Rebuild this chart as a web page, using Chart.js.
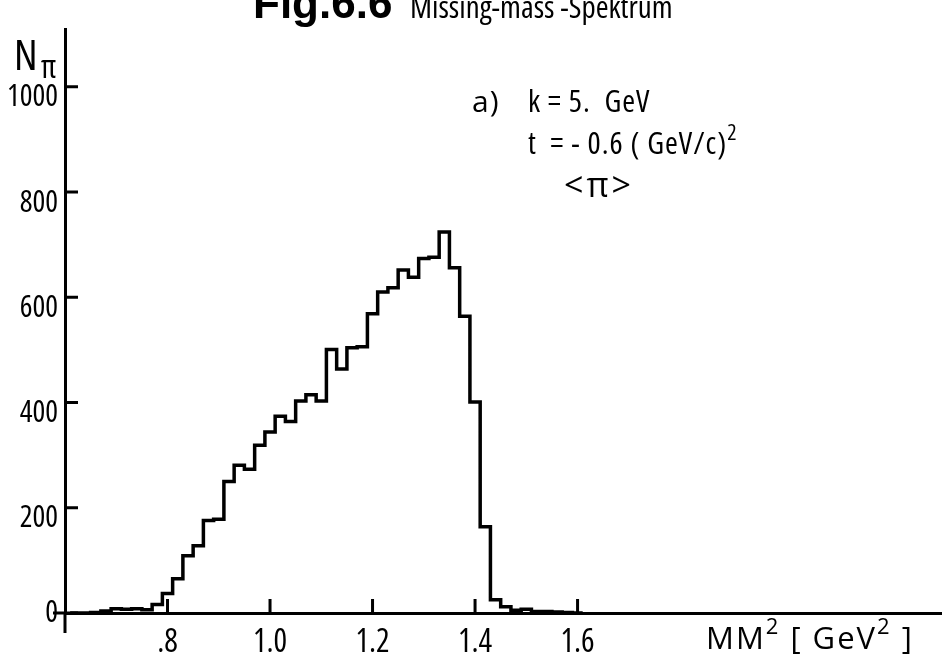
<!DOCTYPE html>
<html lang="de">
<head>
<meta charset="UTF-8">
<title>Fig.6.6 Missing-mass -Spektrum</title>
<script src="https://cdn.jsdelivr.net/npm/chart.js@4.4.0/dist/chart.umd.min.js"></script>
<style>
  html, body { margin: 0; padding: 0; background: #fff; }
  #wrap { width: 942px; height: 659px; position: relative; }
</style>
</head>
<body>
<div id="wrap"><canvas id="mmChart"></canvas></div>
<script>
// lower edges of the MM^2 bins [GeV^2] (bins are 0.02 wide)
const mmBinLow = [
  0.61, 0.63, 0.65, 0.67, 0.69, 0.71, 0.73, 0.75, 0.77, 0.79,
  0.81, 0.83, 0.85, 0.87, 0.89, 0.91, 0.93, 0.95, 0.97, 0.99,
  1.01, 1.03, 1.05, 1.07, 1.09, 1.11, 1.13, 1.15, 1.17, 1.19,
  1.21, 1.23, 1.25, 1.27, 1.29, 1.31, 1.33, 1.35, 1.37, 1.39,
  1.41, 1.43, 1.45, 1.47, 1.49, 1.51, 1.53, 1.55, 1.57, 1.59
];
const mmLastEdge = 1.61;
// counts per bin
const nPi = [
  0, 0, 1, 4, 8, 7, 8, 6, 16, 37,
  65, 109, 128, 176, 178, 250, 281, 273, 319, 344,
  374, 364, 403, 415, 403, 501, 464, 504, 506, 569,
  610, 618, 652, 638, 674, 676, 724, 656, 564, 401,
  164, 25, 12, 5, 7, 3, 3, 2, 1, 0
];
const xTicks = [0.8, 1.0, 1.2, 1.4, 1.6];
const xTickLabels = ['.8', '1.0', '1.2', '1.4', '1.6'];
const yTicks = [0, 200, 400, 600, 800, 1000];

// Open Sans has a width axis, "condensed" gives the narrow plotter lettering
const sans = "'Open Sans', 'DejaVu Sans', sans-serif";
const cond = size => 'condensed ' + size + 'px ' + sans;
const wide = size => size + 'px ' + sans;

const points = mmBinLow.map((x, i) => ({ x: x, y: nPi[i] }));
points.push({ x: mmLastEdge, y: 0 });

// text with raised "2"s, parts: [text, isSup]
function drawParts(ctx, parts, x, y, font, supFont, supRise) {
  parts.forEach(([t, sup]) => {
    ctx.font = sup ? supFont : font;
    ctx.fillText(t, x, sup ? y - supRise : y);
    x += ctx.measureText(t).width;
  });
}

// inward tick marks, axis stubs and the text on the figure
const extras = {
  id: 'extras',
  afterDraw(chart) {
    const ctx = chart.ctx;
    const xs = chart.scales.x, ys = chart.scales.y;
    const area = chart.chartArea;
    ctx.save();
    ctx.strokeStyle = '#000';
    ctx.lineWidth = 3;
    ctx.beginPath();
    xTicks.forEach(v => {
      const px = xs.getPixelForValue(v);
      ctx.moveTo(px, area.bottom);
      ctx.lineTo(px, area.bottom - 14);
    });
    yTicks.forEach(v => {
      const py = ys.getPixelForValue(v);
      ctx.moveTo(area.left, py);
      ctx.lineTo(area.left + 13, py);
    });
    // y axis runs a little below zero, zero line a little left of the axis
    ctx.moveTo(area.left, area.bottom);
    ctx.lineTo(area.left, area.bottom + 20);
    ctx.moveTo(area.left - 12, area.bottom);
    ctx.lineTo(area.left, area.bottom);
    ctx.stroke();

    ctx.fillStyle = '#000';
    ctx.textBaseline = 'alphabetic';
    ctx.textAlign = 'left';
    // title, cut at the top edge like the scan
    ctx.font = "bold 44px 'Liberation Sans', sans-serif";
    ctx.fillText('Fig.6.6', 253, 18);
    ctx.font = cond(31);
    ctx.fillText('Missing-mass -Spektrum', 410, 18);

    // y label
    ctx.font = cond(42);
    ctx.fillText('N', 14, 70);
    ctx.font = cond(32);
    ctx.fillText('\u03c0', 41, 78);

    // run parameters
    ctx.letterSpacing = '1px';
    ctx.font = wide(30);
    ctx.fillText('a)', 472, 112);
    ctx.font = cond(31);
    ctx.fillText('k = 5.  GeV', 528, 112);
    drawParts(ctx, [['t  = - 0.6 ( GeV/c)', false], ['2', true]], 528, 154, cond(31), cond(22), 14);
    ctx.letterSpacing = '3px';
    ctx.font = wide(34);
    ctx.fillText('<\u03c0>', 564, 197);

    // x label
    ctx.letterSpacing = '2px';
    drawParts(ctx, [['MM', false], ['2', true], [' [ GeV', false], ['2', true], [' ]', false]],
      706, 649, wide(31), wide(22), 15);
    ctx.restore();
  }
};

new Chart(document.getElementById('mmChart'), {
  type: 'line',
  data: {
    datasets: [{
      data: points,
      borderColor: '#000',
      borderWidth: 3.5,
      pointRadius: 0,
      fill: false,
      stepped: 'before',
      tension: 0
    }]
  },
  options: {
    responsive: true,
    maintainAspectRatio: false,
    animation: false,
    layout: { padding: { top: 28, left: 0, right: 0, bottom: 0 } },
    plugins: {
      legend: { display: false },
      tooltip: { enabled: false }
    },
    scales: {
      x: {
        type: 'linear',
        min: 0.6,
        max: 2.311,
        afterBuildTicks: s => { s.ticks = xTicks.map(v => ({ value: v })); },
        afterFit: s => { s.height = 46; },
        grid: { display: false, drawTicks: false },
        border: { color: '#000', width: 3 },
        ticks: {
          color: '#000',
          padding: 14,
          maxRotation: 0,
          autoSkip: false,
          font: { family: sans, weight: 'condensed', size: 32, lineHeight: 1 },
          callback: v => xTickLabels[xTicks.indexOf(v)]
        }
      },
      y: {
        min: 0,
        max: 1110,
        afterBuildTicks: s => { s.ticks = yTicks.map(v => ({ value: v })); },
        afterFit: s => { s.width = 65; },
        grid: { display: false, drawTicks: false },
        border: { color: '#000', width: 3 },
        ticks: {
          color: '#000',
          padding: 7,
          // the scan prints the labels just under their ticks (except 0)
          font: { family: sans, weight: 'condensed', size: 30, lineHeight: '22px' },
          callback: v => v === 0 ? '0' : ['', String(v)]
        }
      }
    }
  },
  plugins: [extras]
});
</script>
</body>
</html>
